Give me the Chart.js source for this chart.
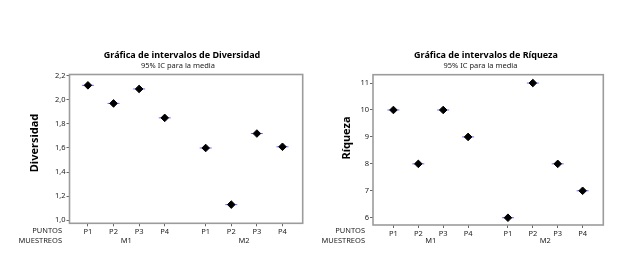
<!DOCTYPE html>
<html><head><meta charset="utf-8">
<script src="https://cdn.jsdelivr.net/npm/chart.js@4.4.1/dist/chart.umd.min.js"></script>
<style>
html,body{margin:0;padding:0;background:#fff;width:629px;height:277px;overflow:hidden}
.w{position:absolute;top:0;height:277px}
</style></head><body>
<div class="w" style="left:0;width:320px"><canvas id="c1" width="320" height="277"></canvas></div>
<div class="w" style="left:320px;width:309px"><canvas id="c2" width="309" height="277"></canvas></div>
<script>
const puntos = ['P1','P2','P3','P4','P1','P2','P3','P4'];
const muestreos = ['M1','M2'];
const diversidad = [2.12, 1.97, 2.09, 1.85, 1.60, 1.13, 1.72, 1.61];
const riqueza = [10, 8, 10, 9, 6, 11, 8, 7];
const diversidadTicks = [1.0, 1.2, 1.4, 1.6, 1.8, 2.0, 2.2];
const riquezaTicks = [6, 7, 8, 9, 10, 11];

const FONT = 'Noto Sans';
// x layout: 4 points per group, gap between groups
const xPos = puntos.map((p, i) => 1 + i + (i >= 4 ? 0.6 : 0));

const textPlugin = {
  id: 'texts',
  afterDraw(chart, args, o) {
    const ctx = chart.ctx, a = chart.chartArea, xs = chart.scales.x;
    ctx.save();
    ctx.strokeStyle = '#9c9c9c'; ctx.lineWidth = 1.6;
    ctx.strokeRect(a.left, a.top, a.right - a.left, a.bottom - a.top);
    ctx.fillStyle = '#000';
    ctx.textBaseline = 'middle';
    ctx.textAlign = 'center';
    ctx.font = 'bold 9px "' + FONT + '"';
    ctx.fillText(o.title, o.titleX, 55);
    ctx.font = '7.5px "' + FONT + '"';
    ctx.fillStyle = '#222';
    ctx.fillText('95% IC para la media', o.subX, 65.5);
    ctx.font = '7.5px "' + FONT + '"';
    muestreos.forEach((m, g) => {
      const x0 = xs.getPixelForValue(xPos[g * 4]), x1 = xs.getPixelForValue(xPos[g * 4 + 3]);
      ctx.fillText(m, (x0 + x1) / 2, 241);
    });
    ctx.textAlign = 'right';
    ctx.fillText('PUNTOS', o.rowX, 231);
    ctx.fillText('MUESTREOS', o.rowX, 241);
    ctx.save();
    ctx.translate(o.yTitleX, o.yTitleY);
    ctx.rotate(-Math.PI / 2);
    ctx.textAlign = 'center';
    ctx.fillStyle = '#000';
    ctx.font = 'bold 11px "' + FONT + '"';
    ctx.fillText(o.yTitle, 0, 0);
    ctx.restore();
    ctx.restore();
  }
};

function make(id, values, ticks, ymin, ymax, xmin, xmax, pad, fmt, texts) {
  const data = values.map((v, i) => ({x: xPos[i], y: v}));
  return new Chart(document.getElementById(id), {
    type: 'scatter',
    data: {datasets: [
      {data, order: 2, pointStyle: 'line', pointRadius: 6, pointBorderColor: '#7070ff', pointBorderWidth: 1, pointHoverRadius: 6},
      {data, order: 1, pointStyle: 'rectRot', pointRadius: 3.8, pointBackgroundColor: '#000', pointBorderColor: '#000', pointBorderWidth: 1, pointHoverRadius: 3.8}
    ]},
    options: {
      responsive: false, animation: false, events: [],
      layout: {padding: pad},
      plugins: {legend: {display: false}, tooltip: {enabled: false}, texts},
      scales: {
        x: {
          type: 'linear', min: xmin, max: xmax,
          afterBuildTicks: s => { s.ticks = xPos.map(v => ({value: v})); },
          afterFit: s => { s.height = 30; },
          ticks: {autoSkip: false, maxRotation: 0, padding: 1, color: '#222',
                  font: {family: FONT, size: 7.5},
                  callback: (v, i) => puntos[i]},
          grid: {drawOnChartArea: false, tickLength: 3, color: '#666', tickWidth: 1},
          border: {display: false}
        },
        y: {
          min: ymin, max: ymax,
          afterBuildTicks: s => { s.ticks = ticks.map(v => ({value: v})); },
          afterFit: s => { s.width = 30; },
          ticks: {padding: 1, color: '#222', font: {family: FONT, size: 7.5}, callback: fmt},
          grid: {drawOnChartArea: false, tickLength: 3, color: '#666', tickWidth: 1},
          border: {display: false}
        }
      }
    },
    plugins: [textPlugin]
  });
}

make('c1', diversidad, diversidadTicks, 0.975, 2.21, 0.28, 9.39,
  {left: 39.5, top: 74.5, right: 17.3, bottom: 23.7},
  v => v.toFixed(1).replace('.', ','),
  {title: 'Gráfica de intervalos de Diversidad', titleX: 182, subX: 178, rowX: 62,
   yTitle: 'Diversidad', yTitleX: 35, yTitleY: 143});

make('c2', riqueza, riquezaTicks, 5.73, 11.31, 0.18, 9.43,
  {left: 23, top: 74.7, right: 25.7, bottom: 22},
  v => String(v),
  {title: 'Gráfica de intervalos de Ríqueza', titleX: 166, subX: 160.5, rowX: 45,
   yTitle: 'Ríqueza', yTitleX: 27, yTitleY: 138});
</script>
</body></html>
